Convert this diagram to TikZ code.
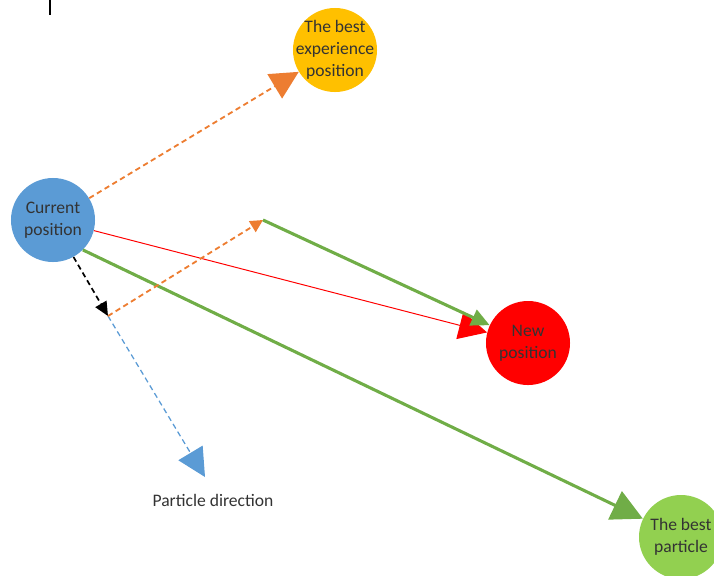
\documentclass[tikz,border=0pt]{standalone}
\usepackage{fontspec}
\setmainfont{Carlito}
\usetikzlibrary{arrows.meta}
\definecolor{curblue}{HTML}{5B9BD5}
\definecolor{pbestorange}{HTML}{ED7D31}
\definecolor{pbestyellow}{HTML}{FFC000}
\definecolor{gbestgreen}{HTML}{70AD47}
\definecolor{gbestfill}{HTML}{92D050}
\definecolor{newred}{HTML}{FF0000}
\tikzset{
  posnode/.style={circle, minimum size=2.1cm, inner sep=-8pt, align=center,
    text=black!80, font=\fontsize{12.5}{15.6}\selectfont},
  txtlabel/.style={text=black!80, font=\fontsize{12.5}{15}\selectfont, inner sep=0pt},
  dashline/.style={dash pattern=on 3.8pt off 2.6pt},
  bigtip/.style={-{Triangle[length=20pt,width=20pt]}},
  smalltip/.style={-{Triangle[length=9pt,width=9pt]}},
}

\begin{document}
\begin{tikzpicture}[x=0.025cm, y=-0.025cm]
  \useasboundingbox (0,0) rectangle (714,575);
  \clip (0,0) rectangle (714,575);

  %% ---- positions ----
  \node[posnode, fill=curblue]     (cur)  at (53, 220)  {Current\\position};
  \node[posnode, fill=pbestyellow] (pexp) at (335, 50)  {The best\\experience\\position};
  \node[posnode, fill=newred]      (new)  at (528, 343) {New\\position};
  \node[posnode, fill=gbestfill]   (gbp)  at (681, 537) {The best\\particle};

  \node[txtlabel] (pdir) at (213, 500) {Particle direction};

  \coordinate (turn) at (108, 316);
  \coordinate (peak) at (263, 220);
  \coordinate (dirtip) at (205, 477);

  %% stray mark at the top edge
  \fill[black] (48.5, 0) rectangle (50.5, 15);

  %% ---- velocity parts ----
  \draw[pbestorange, line width=1.3pt, dashline, bigtip] (cur) -- (pexp);
  \draw[newred, line width=0.7pt, bigtip] (cur) -- (new);
  \draw[gbestgreen, line width=2.2pt, -{Triangle[length=22pt,width=22pt]}] (cur.south east) -- (gbp);

  \draw[black, line width=1.2pt, dashline, -{Triangle[length=10pt,width=9pt]}] (cur.-61) -- (turn);
  \draw[curblue, line width=0.9pt, dashline, bigtip] (turn) -- (dirtip);
  \draw[pbestorange, line width=1.3pt, dashline, smalltip] (turn) -- (peak);
  \draw[gbestgreen, line width=2.2pt, -{Triangle[length=13pt,width=12pt]}] (peak) -- (new);

\end{tikzpicture}
\end{document}
